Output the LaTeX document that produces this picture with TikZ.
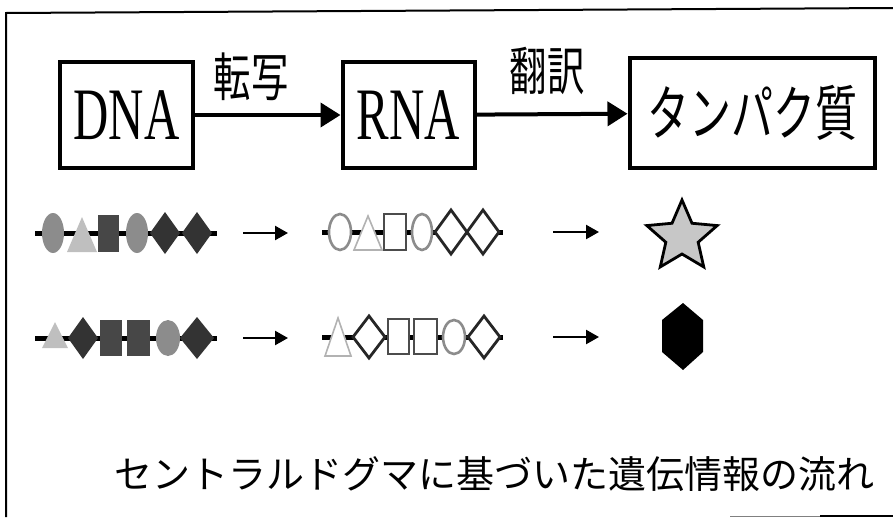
\documentclass[tikz,border=0pt]{standalone}
\usepackage{fontspec}
\setmainfont{Liberation Serif}
\newfontfamily\jp{Noto Sans CJK JP}
\usetikzlibrary{arrows.meta,calc}
\tikzset{
  box/.style={draw, line width=4pt, inner sep=0pt, anchor=center},
  bigarrow/.style={line width=4pt, -{Triangle[length=20pt,width=24pt]}},
  smallarrow/.style={line width=2.4pt, -{Triangle[length=13pt,width=14pt]}},
  chain/.style={line width=5pt},
  dnaell/.style={fill=black!45},
  dnatri/.style={fill=black!25},
  dnasq/.style={fill=black!72},
  dnadia/.style={fill=black!80},
  rnaell/.style={draw=black!45, fill=white, line width=2.6pt},
  rnatri/.style={draw=black!30, fill=white, line width=1.6pt},
  rnasq/.style={draw=black!70, fill=white, line width=2.8pt},
  rnadia/.style={draw=black!85, fill=white, line width=2.8pt},
  frame/.style={line width=2pt}
}
\newcommand{\tri}[5]{% style, xc, halfw, top, bottom
  \path[#1] (#2-#3,#5) -- (#2,#4) -- (#2+#3,#5) -- cycle;}
\newcommand{\dia}[5]{% style, xc, yc, hw, hh
  \path[#1] (#2-#4,#3) -- (#2,#3-#5) -- (#2+#4,#3) -- (#2,#3+#5) -- cycle;}
\begin{document}
\begin{tikzpicture}[x=1pt,y=-1pt]
\useasboundingbox (0,0) rectangle (893,517);
% frame
\draw[frame] (6,517) -- (6,13) -- (893,8);
\draw[line width=1pt, black!50] (730,516) -- (820,516);
\draw[line width=2pt] (820,516) -- (893,516);

% boxes
\node[box, minimum width=133pt, minimum height=106pt] (dna) at (126.5,115)
  {\scalebox{0.66}[1]{\fontsize{74}{74}\selectfont DNA}};
\node[box, minimum width=132pt, minimum height=106pt] (rna) at (408.5,115)
  {\scalebox{0.66}[1]{\fontsize{74}{74}\selectfont RNA}};
\node[box, minimum width=245pt, minimum height=110pt] (prot) at (752,113)
  {\scalebox{0.7}[1]{\jp\fontsize{60}{60}\selectfont タンパク質}};
\draw[bigarrow] (dna) -- (rna);
\draw[bigarrow] (rna) -- (prot);
\node (l1) at (251,77) {\scalebox{0.72}[1]{\jp\fontsize{52}{52}\selectfont 転写}};
\node (l2) at (547,71) {\scalebox{0.72}[1]{\jp\fontsize{52}{52}\selectfont 翻訳}};

% DNA row 1
\draw[chain] (35,233) -- (217,233);
\path[dnaell] (53,233) ellipse (11 and 20);
\tri{dnatri}{82}{15}{217}{252}
\path[dnasq] (98,215) rectangle (119,252);
\path[dnaell] (137,233) ellipse (11 and 20);
\dia{dnadia}{165}{233}{15}{21}
\dia{dnadia}{197}{233}{15}{21}
% DNA row 2
\draw[chain] (35,338) -- (217,338);
\tri{dnatri}{55}{13}{322}{348}
\dia{dnadia}{83}{338}{15}{21}
\path[dnasq] (100,320) rectangle (122,356);
\path[dnasq] (127,320) rectangle (150,356);
\path[dnaell] (168,338) ellipse (12 and 18);
\dia{dnadia}{197}{338}{17}{21}

% RNA row 1
\draw[chain] (322,232) -- (503,232);
\path[rnaell] (340,232) ellipse (11 and 18);
\tri{rnatri}{368}{14}{216}{250}
\path[rnasq] (384,214) rectangle (406,250);
\path[rnaell] (422,232) ellipse (10 and 18);
\dia{rnadia}{451}{232}{16}{22}
\dia{rnadia}{483}{232}{16}{22}
% RNA row 2
\draw[chain] (322,337) -- (503,337);
\tri{rnatri}{338}{13}{318}{356}
\dia{rnadia}{369}{337}{16}{21}
\path[rnasq] (388,319) rectangle (409,354);
\path[rnasq] (414,319) rectangle (437,354);
\path[rnaell] (454,337) ellipse (11 and 17);
\dia{rnadia}{484}{337}{16}{21}

% small arrows
\coordinate (a1s) at (243,233); \coordinate (a1e) at (288,233);
\coordinate (a2s) at (243,338); \coordinate (a2e) at (288,338);
\coordinate (a3s) at (553,232); \coordinate (a3e) at (599,232);
\coordinate (a4s) at (553,337); \coordinate (a4e) at (599,337);
\draw[smallarrow] (a1s) -- (a1e);
\draw[smallarrow] (a2s) -- (a2e);
\draw[smallarrow] (a3s) -- (a3e);
\draw[smallarrow] (a4s) -- (a4e);

% products
\coordinate (starc) at (682,237);
\path[draw, fill=black!22, line width=2.8pt, line join=miter]
  ($(starc)+(-90:37)$)
  \foreach \i in {1,...,9} {
    -- ($(starc)+({-90+36*\i}:{ifthenelse(mod(\i,2)==1,17,37)})$)
  } -- cycle;
\path[fill=black] (683,303) -- (703,320) -- (703,352) -- (683,370) -- (662,352) -- (662,320) -- cycle;

% caption
\node (cap) at (494.5,474) {\jp\fontsize{38}{38}\selectfont セントラルドグマに基づいた遺伝情報の流れ};
\end{tikzpicture}
\end{document}
